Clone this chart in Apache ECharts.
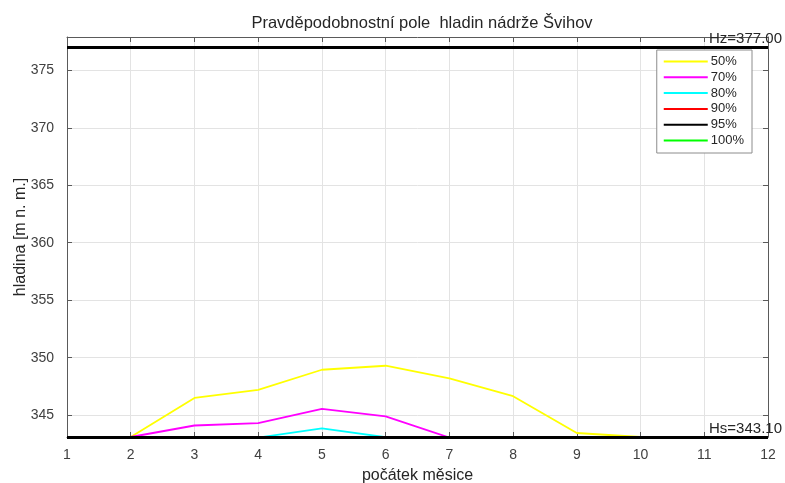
<!DOCTYPE html>
<html>
<head>
<meta charset="utf-8">
<script src="https://cdn.jsdelivr.net/npm/echarts@6/dist/echarts.min.js"></script>
<style>
  html, body { margin: 0; padding: 0; background: #fff; }
  #chart { width: 785px; height: 483px; }
</style>
</head>
<body>
<div id="chart"></div>
<script>
// Měsíce (počátek měsíce) a hladiny pro jednotlivé pravděpodobnosti
const months = [1, 2, 3, 4, 5, 6, 7, 8, 9, 10, 11, 12];
const p50  = [343.1, 343.1, 346.5, 347.2, 348.95, 349.3, 348.2, 346.65, 343.45, 343.1, 343.1, 343.1];
const p70  = [343.1, 343.1, 344.1, 344.3, 345.55, 344.9, 343.05, 343.1, 343.1, 343.1, 343.1, 343.1];
const p80  = [343.1, 343.1, 343.1, 343.05, 343.85, 343.08, 343.1, 343.1, 343.1, 343.1, 343.1, 343.1];
const p90  = [343.1, 343.1, 343.1, 343.1, 343.1, 343.1, 343.1, 343.1, 343.1, 343.1, 343.1, 343.1];
const p95  = [343.1, 343.1, 343.1, 343.1, 343.1, 343.1, 343.1, 343.1, 343.1, 343.1, 343.1, 343.1];
const p100 = [343.1, 343.1, 343.1, 343.1, 343.1, 343.1, 343.1, 343.1, 343.1, 343.1, 343.1, 343.1];
const seriesNames = ['50%', '70%', '80%', '90%', '95%', '100%'];
const seriesColors = ['#ffff00', '#ff00ff', '#00ffff', '#ff0000', '#000000', '#00ff00'];
const yTicks = [345, 350, 355, 360, 365, 370, 375];
const Hz = 377.00;   // hladina Hz
const Hs = 343.10;   // hladina Hs
const yMin = 343.1, yMax = 377.9;

const values = [p50, p70, p80, p90, p95, p100];
const font = 'Liberation Sans, Arial, Helvetica, sans-serif';
const txt = '#262626';
const axisCol = '#5a5a5a';

const lineSeries = values.map((v, i) => ({
  name: seriesNames[i],
  type: 'line',
  data: months.map((m, k) => [m, v[k]]),
  showSymbol: false,
  symbol: 'none',
  lineStyle: { color: seriesColors[i], width: 1.8 },
  itemStyle: { color: seriesColors[i] },
  z: 3,
  animation: false
}));

// hranice Hz a Hs
lineSeries.push({
  name: 'hranice',
  type: 'line',
  data: [],
  z: 10,
  animation: false,
  markLine: {
    silent: true,
    symbol: 'none',
    animation: false,
    lineStyle: { color: '#000', width: 3, type: 'solid' },
    label: {
      position: 'insideEndTop',
      color: txt,
      fontFamily: font,
      fontSize: 15,
      distance: 1,
      offset: [15, 0]
    },
    data: [
      { yAxis: Hz, label: { formatter: 'Hz=' + Hz.toFixed(2) } },
      { yAxis: Hs, label: { formatter: 'Hs=' + Hs.toFixed(2) } }
    ]
  }
});

const chart = echarts.init(document.getElementById('chart'), null, { renderer: 'canvas' });
chart.setOption({
  backgroundColor: '#fff',
  animation: false,
  title: {
    text: 'Pravděpodobnostní pole  hladin nádrže Švihov',
    left: 417, textAlign: 'center', top: 10,
    textStyle: { fontFamily: font, fontSize: 16.5, fontWeight: 'normal', color: txt }
  },
  grid: { left: 67, right: 17, top: 37, bottom: 46, outerBoundsMode: 'none', containLabel: false },
  legend: {
    data: seriesNames,
    orient: 'vertical',
    right: 33, top: 50,
    backgroundColor: '#fff',
    borderColor: '#8c8c8c',
    borderWidth: 1,
    borderRadius: 0,
    padding: [5, 8, 6, 7],
    itemGap: 2.8,
    itemWidth: 44,
    itemHeight: 2,
    icon: 'rect',
    textStyle: { fontFamily: font, fontSize: 13, color: txt, padding: [0, 0, 0, -2] }
  },
  xAxis: [{
    type: 'value', min: 1, max: 12, interval: 1,
    name: 'počátek měsice', nameLocation: 'middle', nameGap: 31, nameMoveOverlap: false,
    nameTextStyle: { fontFamily: font, fontSize: 16, color: txt },
    axisLine: { onZero: false, lineStyle: { color: axisCol, width: 1 } },
    axisTick: { inside: true, length: 5, lineStyle: { color: axisCol } },
    axisLabel: { fontFamily: font, fontSize: 14, color: '#404040', margin: 11 },
    splitLine: { show: true, lineStyle: { color: '#e3e3e3', width: 1 } }
  }, {
    type: 'value', min: 1, max: 12, interval: 1, position: 'top',
    axisLine: { onZero: false, lineStyle: { color: axisCol, width: 1 } },
    axisTick: { inside: true, length: 5, lineStyle: { color: axisCol } },
    axisLabel: { show: false },
    splitLine: { show: false }
  }],
  yAxis: [{
    type: 'value', min: yMin, max: yMax,
    name: 'hladina [m n. m.]', nameLocation: 'middle', nameGap: 38, nameRotate: 90,
    nameMoveOverlap: false,
    nameTextStyle: { fontFamily: font, fontSize: 16, color: txt },
    axisLine: { show: true, onZero: false, lineStyle: { color: axisCol, width: 1 } },
    axisTick: { show: true, inside: true, length: 5, customValues: yTicks, lineStyle: { color: axisCol } },
    axisLabel: { fontFamily: font, fontSize: 14, color: '#404040', margin: 13, customValues: yTicks },
    splitLine: { show: true, lineStyle: { color: '#e3e3e3', width: 1 } }
  }, {
    type: 'value', min: yMin, max: yMax, position: 'right',
    axisLine: { show: true, onZero: false, lineStyle: { color: axisCol, width: 1 } },
    axisTick: { show: true, inside: true, length: 5, customValues: yTicks, lineStyle: { color: axisCol } },
    axisLabel: { show: false, customValues: yTicks },
    splitLine: { show: false }
  }],
  series: lineSeries
});
</script>
</body>
</html>
